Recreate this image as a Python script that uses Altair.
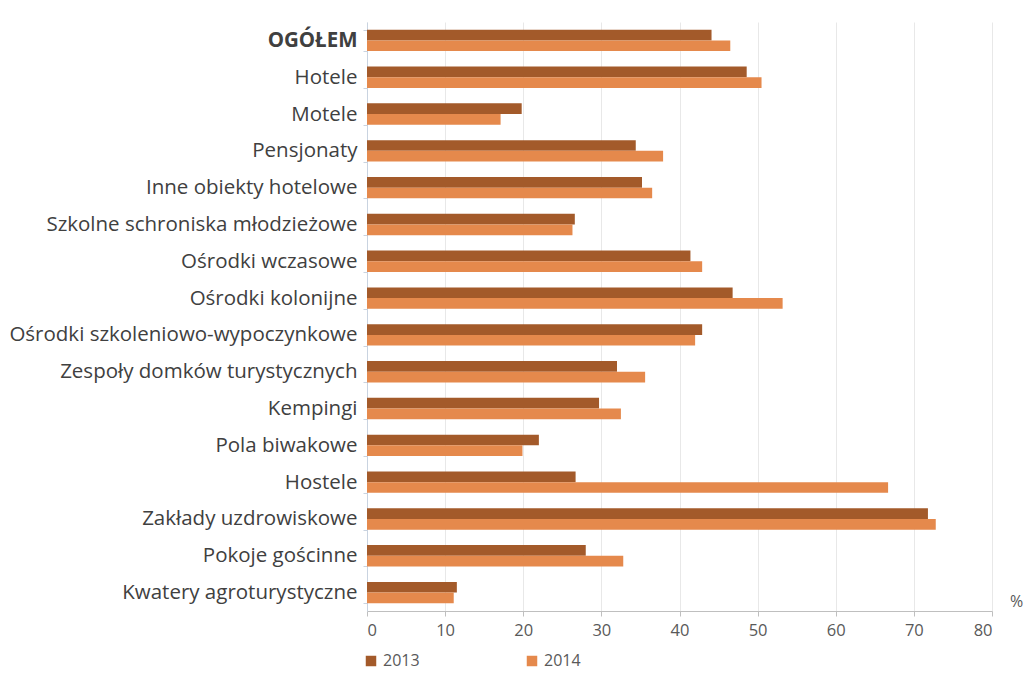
import altair as alt
import pandas as pd

categories = [
    "OGÓŁEM",
    "Hotele",
    "Motele",
    "Pensjonaty",
    "Inne obiekty hotelowe",
    "Szkolne schroniska młodzieżowe",
    "Ośrodki wczasowe",
    "Ośrodki kolonijne",
    "Ośrodki szkoleniowo-wypoczynkowe",
    "Zespoły domków turystycznych",
    "Kempingi",
    "Pola biwakowe",
    "Hostele",
    "Zakłady uzdrowiskowe",
    "Pokoje gościnne",
    "Kwatery agroturystyczne",
]
values_2013 = [44.1, 48.6, 19.8, 34.4, 35.2, 26.6, 41.4, 46.8,
               42.9, 32.0, 29.7, 22.0, 26.7, 71.8, 28.0, 11.5]
values_2014 = [46.5, 50.5, 17.1, 37.9, 36.5, 26.3, 42.9, 53.2,
               42.0, 35.6, 32.5, 19.9, 66.7, 72.8, 32.8, 11.1]
years = ["2013", "2014"]
colors = ["#A35A2A", "#E5894C"]
x_ticks = [0, 10, 20, 30, 40, 50, 60, 70, 80]

rows = []
for cat, a, b in zip(categories, values_2013, values_2014):
    rows.append({"kategoria": cat, "rok": years[0], "wartosc": a})
    rows.append({"kategoria": cat, "rok": years[1], "wartosc": b})
df = pd.DataFrame(rows)

font = "Open Sans"
text_color = "#404040"

bars = alt.Chart(df).mark_bar().encode(
    x=alt.X(
        "wartosc:Q",
        scale=alt.Scale(domain=[0, 80], nice=False),
        axis=alt.Axis(
            values=x_ticks,
            title=None,
            grid=True,
            gridColor="#E8E8E8",
            domainColor="#BFBFBF",
            tickColor="#BFBFBF",
            tickSize=5,
            labelFont=font,
            labelFontSize=16.5,
            labelColor="#595959",
            labelPadding=6,
        ),
    ),
    y=alt.Y(
        "kategoria:N",
        sort=categories,
        scale=alt.Scale(paddingInner=0.42, paddingOuter=0.21),
        axis=alt.Axis(
            title=None,
            labelFont=font,
            labelFontSize=20.5,
            labelColor=text_color,
            labelFontWeight=alt.expr("datum.value == 'OGÓŁEM' ? 'bold' : 'normal'"),
            labelPadding=6,
            labelLimit=400,
            domainColor="#C9D3E0",
            tickColor="#C9D3E0",
            tickSize=4,
            tickBand="extent",
        ),
    ),
    yOffset=alt.YOffset("rok:N", sort=years),
    color=alt.Color(
        "rok:N",
        sort=years,
        scale=alt.Scale(domain=years, range=colors),
        legend=alt.Legend(
            title=None,
            orient="none",
            legendX=-4,
            legendY=631,
            direction="horizontal",
            symbolType="square",
            symbolSize=110,
            symbolStrokeWidth=0,
            labelFont=font,
            labelFontSize=16,
            labelColor="#595959",
            columnPadding=104,
        ),
    ),
)

percent = alt.Chart(pd.DataFrame({"t": ["%"]})).mark_text(
    font=font, fontSize=16, color="#595959", align="left", baseline="middle"
).encode(
    text="t:N",
    x=alt.value(643),
    y=alt.value(580),
)

chart = (
    alt.layer(bars, percent)
    .properties(
        width=625,
        height=589,
        autosize=alt.AutoSizeParams(type="none"),
        padding={"left": 367, "top": 22, "right": 36, "bottom": 64},
        background="white",
    )
    .configure_view(stroke=None)
)

chart.save("out.html", embed_options={"renderer": "svg", "actions": False})
